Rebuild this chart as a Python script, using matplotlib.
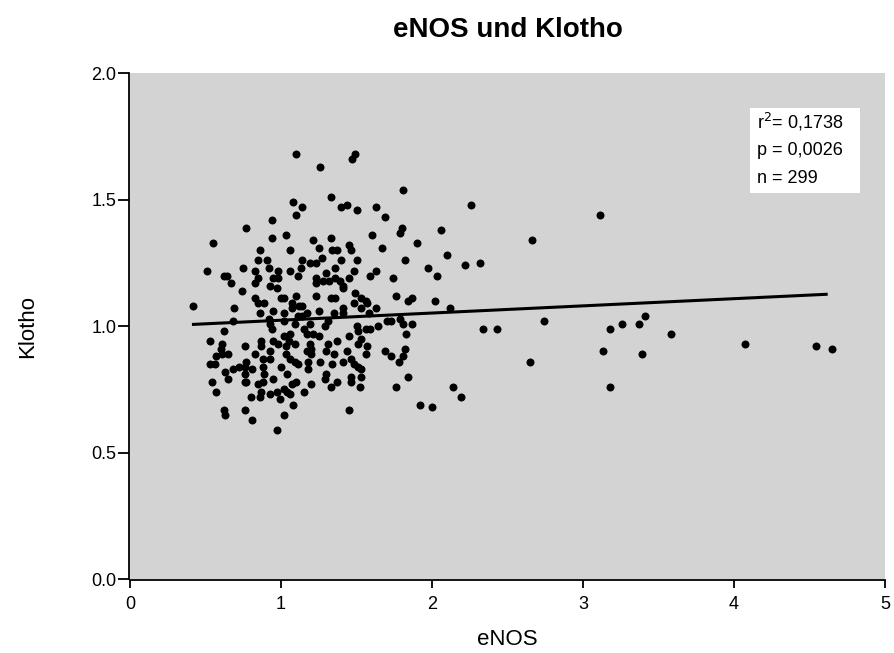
import matplotlib.pyplot as plt
import numpy as np

plt.rcParams['font.family'] = ['Liberation Sans', 'DejaVu Sans']

# eNOS, Klotho
enos = [1.10, 1.08, 1.14, 1.10, 0.94, 0.77, 1.03, 0.94,
        1.49, 1.47, 1.26, 1.81, 1.33, 1.40, 1.44, 1.50, 1.63, 1.69, 1.80, 1.79, 1.60, 1.33, 1.21,
        0.55, 0.86, 1.06, 1.14, 0.85, 0.91, 0.92, 0.75, 0.83, 0.98, 1.06, 1.13, 1.11, 0.51, 0.62,
        0.64, 0.67, 0.85, 0.83, 0.95, 0.98, 0.93, 0.97, 0.74, 1.10, 1.00, 1.02, 0.83, 0.85, 0.89,
        1.07, 1.07, 1.12, 1.14, 0.42, 0.69, 0.86, 0.95, 1.02, 0.92, 1.11, 1.14, 0.68, 0.93, 0.94,
        1.02, 1.09, 1.15, 0.62, 1.06,
        1.90, 1.25, 1.34, 1.37, 1.45, 1.46, 1.67, 1.19, 1.23, 1.27, 1.36, 1.40, 1.50, 1.82, 1.48,
        1.63, 1.59, 1.74, 1.30, 1.23, 1.23, 1.28, 1.32, 1.36, 1.39, 1.45, 1.41, 1.41, 1.23, 1.49,
        1.53, 1.56, 1.48, 1.57, 1.33, 1.36, 1.76, 1.84, 1.87, 1.41, 1.63, 1.53, 1.25, 1.35, 1.17,
        1.41, 1.58, 1.31, 1.29, 1.19, 1.50, 1.56, 1.59, 1.64, 1.70, 1.73, 1.79, 1.81, 1.87, 1.21,
        1.83,
        0.53, 0.61, 0.60, 0.76, 0.87, 0.87, 0.95, 0.98, 1.02, 1.05, 1.09, 1.03, 0.93, 0.83, 0.88,
        0.93, 1.03, 1.06, 1.09, 1.11, 0.57, 0.61, 0.65, 0.53, 0.56, 0.77, 0.76, 0.72, 0.68, 0.63,
        0.81, 0.88, 0.89, 1.00, 1.04, 0.76, 0.95, 0.65, 0.54, 0.77, 0.76, 0.85, 0.88, 1.07, 1.10,
        0.57, 0.80, 0.87, 0.86, 0.93, 0.97, 1.02, 1.04, 0.99, 1.06, 1.15, 1.08, 0.62, 0.63, 0.76,
        1.02, 0.81, 0.97,
        1.17, 1.25, 1.45, 1.51, 1.53, 1.51, 1.57, 1.56, 1.82, 1.69, 1.73, 1.81, 1.78, 1.19, 1.20,
        1.17, 1.20, 1.31, 1.37, 1.30, 1.35, 1.44, 1.41, 1.46, 1.48, 1.51, 1.53, 1.26, 1.34, 1.18,
        1.18, 1.30, 1.29, 1.33, 1.37, 1.46, 1.46, 1.53, 1.52, 1.20, 1.76, 1.84, 1.45, 1.92,
        2.26, 2.06, 2.66, 2.10, 1.97, 2.03, 2.22, 2.32, 2.02, 2.12, 2.34, 2.43, 2.74, 2.65, 2.14,
        2.19, 2.00,
        3.11, 3.18, 3.26, 3.37, 3.41, 3.58, 3.13, 3.39, 3.18, 4.07, 4.54, 4.65]

klotho = [1.68, 1.49, 1.47, 1.44, 1.42, 1.39, 1.36, 1.35,
          1.68, 1.66, 1.63, 1.54, 1.51, 1.47, 1.48, 1.46, 1.47, 1.43, 1.39, 1.37, 1.36, 1.35, 1.34,
          1.33, 1.30, 1.30, 1.26, 1.26, 1.26, 1.23, 1.23, 1.22, 1.22, 1.22, 1.23, 1.20, 1.22, 1.20,
          1.20, 1.17, 1.19, 1.17, 1.19, 1.19, 1.16, 1.15, 1.14, 1.12, 1.11, 1.11, 1.11, 1.09, 1.09,
          1.09, 1.07, 1.08, 1.08, 1.08, 1.07, 1.05, 1.06, 1.05, 1.03, 1.04, 1.04, 1.02, 1.01, 0.99,
          1.02, 1.01, 0.99, 0.98, 0.97,
          1.33, 1.31, 1.30, 1.30, 1.32, 1.30, 1.31, 1.25, 1.25, 1.27, 1.23, 1.26, 1.26, 1.26, 1.22,
          1.22, 1.20, 1.19, 1.21, 1.19, 1.17, 1.18, 1.18, 1.19, 1.18, 1.19, 1.16, 1.15, 1.12, 1.13,
          1.11, 1.10, 1.09, 1.09, 1.11, 1.11, 1.12, 1.10, 1.11, 1.07, 1.07, 1.07, 1.06, 1.05, 1.05,
          1.05, 1.05, 1.02, 1.00, 1.01, 1.00, 0.99, 0.99, 1.00, 1.02, 1.02, 1.03, 1.01, 1.01, 0.97,
          0.97,
          0.94, 0.93, 0.91, 0.92, 0.94, 0.92, 0.94, 0.93, 0.96, 0.94, 0.93, 0.92, 0.90, 0.89, 0.87,
          0.87, 0.89, 0.87, 0.86, 0.85, 0.88, 0.89, 0.89, 0.85, 0.85, 0.86, 0.84, 0.84, 0.83, 0.82,
          0.83, 0.84, 0.81, 0.84, 0.81, 0.81, 0.79, 0.79, 0.78, 0.78, 0.78, 0.77, 0.78, 0.77, 0.78,
          0.74, 0.72, 0.74, 0.72, 0.73, 0.74, 0.75, 0.74, 0.71, 0.73, 0.74, 0.69, 0.67, 0.65, 0.67,
          0.65, 0.63, 0.59,
          0.97, 0.96, 0.96, 0.98, 0.95, 0.93, 0.92, 0.89, 0.91, 0.90, 0.88, 0.88, 0.86, 0.93, 0.91,
          0.90, 0.89, 0.93, 0.94, 0.90, 0.89, 0.90, 0.86, 0.87, 0.85, 0.84, 0.83, 0.86, 0.85, 0.86,
          0.83, 0.81, 0.79, 0.76, 0.78, 0.80, 0.78, 0.80, 0.76, 0.77, 0.76, 0.80, 0.67, 0.69,
          1.48, 1.38, 1.34, 1.28, 1.23, 1.20, 1.24, 1.25, 1.10, 1.07, 0.99, 0.99, 1.02, 0.86, 0.76,
          0.72, 0.68,
          1.44, 0.99, 1.01, 1.01, 1.04, 0.97, 0.90, 0.89, 0.76, 0.93, 0.92, 0.91]

# Regressionsgerade
achse = 0.995
steigung = 0.0284

stat_zeilen = ['r$^2$= 0,1738', 'p = 0,0026', 'n = 299']

fig = plt.figure(figsize=(8.95, 6.53), dpi=100)
ax = fig.add_axes([0.1453, 0.1133, 0.8436, 0.7745])
ax.set_facecolor('#d3d3d3')

ax.scatter(enos, klotho, s=33, color='black', linewidths=0, zorder=3)
xs = np.array([min(enos), max(enos) - 0.04])
ax.plot(xs, achse + steigung * xs, color='black', lw=2.2, zorder=2)

ax.set_xlim(0, 5)
ax.set_ylim(0, 2.0)
ax.set_xticks([0, 1, 2, 3, 4, 5])
ax.set_yticks([0.0, 0.5, 1.0, 1.5, 2.0])
ax.set_yticklabels(['0.0', '0.5', '1.0', '1.5', '2.0'])
ax.tick_params(axis='y', direction='out', length=8, width=1.3, labelsize=13, pad=1)
ax.tick_params(axis='x', direction='out', length=6, width=1.3, labelsize=13, pad=5)
for s in ['top', 'right']:
    ax.spines[s].set_visible(False)
for s in ['left', 'bottom']:
    ax.spines[s].set_linewidth(1.3)
    ax.spines[s].set_position(('outward', 1))

ax.set_xlabel('eNOS', fontsize=16, labelpad=12)
ax.set_ylabel('Klotho', fontsize=16, labelpad=38)
ax.set_title('eNOS und Klotho', fontsize=20, fontweight='bold', pad=26)

# Statistik-Kasten
ax.add_patch(plt.Rectangle((0.821, 0.763), 0.146, 0.168, transform=ax.transAxes,
                           facecolor='white', edgecolor='none', zorder=4))
for zeile, yy in zip(stat_zeilen, [0.891, 0.838, 0.783]):
    ax.text(0.830, yy, zeile, transform=ax.transAxes, fontsize=13,
            va='baseline', ha='left', zorder=5)

plt.savefig('out.png', dpi=100)
